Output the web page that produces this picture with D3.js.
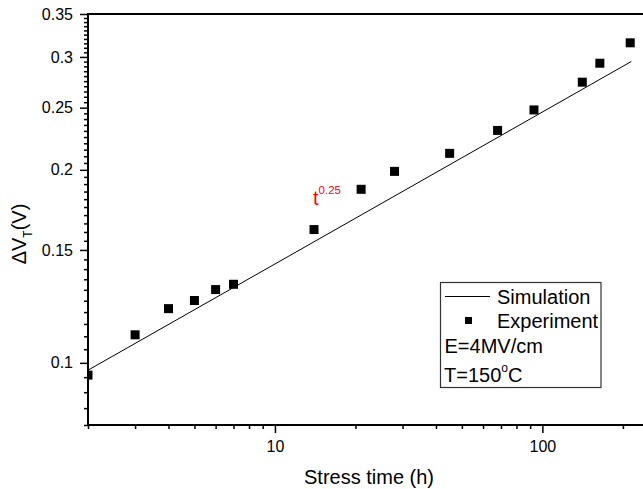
<!DOCTYPE html>
<html>
<head>
<meta charset="utf-8">
<script src="https://cdn.jsdelivr.net/npm/d3@7/dist/d3.min.js"></script>
<style>
  html, body { margin: 0; padding: 0; background: #fff; }
  svg { display: block; font-family: "Liberation Sans", Arial, Helvetica, sans-serif; }
</style>
</head>
<body>
<svg id="chart" width="643" height="489"></svg>
<script>
// ---- data ----
const expTime = [2, 3, 4, 5, 6, 7, 14, 21, 28, 45, 68, 93, 141, 164, 213];
const expDeltaV = [0.0957, 0.1106, 0.1215, 0.1251, 0.1301, 0.1326, 0.1614, 0.1865, 0.1989, 0.2122, 0.2304, 0.248, 0.274, 0.2933, 0.3156];
const simTime = [2, 215];
const simDeltaV = [0.0974, 0.2951];
const xMajorTicks = [10, 100];
const xMinorTicks = [2, 3, 4, 5, 6, 7, 8, 9, 20, 30, 40, 50, 60, 70, 80, 90, 200, 300];
const yMajorTicks = [0.1, 0.15, 0.2, 0.25, 0.3, 0.35];
const yTickLabels = ["0.1", "0.15", "0.2", "0.25", "0.3", "0.35"];
const yMinorTicks = d3.range(16, 71).map(i => i * 0.005).filter(v => !yMajorTicks.some(m => Math.abs(m - v) < 1e-9));
const legendItems = ["Simulation", "Experiment"];
const conditionLabels = ["E=4MV/cm", "T=150"];

// ---- layout ----
const svg = d3.select("#chart");
const L = 88, T = 14, B = 425, R = 670;
const x = d3.scaleLog().domain([2, 300]).range([L, R]);
const y = d3.scaleLog().domain([0.08, 0.35]).range([B, T]);

svg.append("rect").attr("width", 643).attr("height", 489).attr("fill", "#fff");

svg.append("clipPath").attr("id", "plotclip")
  .append("rect").attr("x", L).attr("y", T).attr("width", R - L).attr("height", B - T);

const plot = svg.append("g").attr("clip-path", "url(#plotclip)");

// simulation line
plot.append("path")
  .datum(simTime.map((t, i) => [t, simDeltaV[i]]))
  .attr("fill", "none").attr("stroke", "#000").attr("stroke-width", 1)
  .attr("d", d3.line().x(d => x(d[0])).y(d => y(d[1])));

// experiment markers
const ms = 9;
plot.selectAll("rect.pt").data(expTime.map((t, i) => [t, expDeltaV[i]]))
  .join("rect").attr("class", "pt")
  .attr("x", d => x(d[0]) - ms / 2).attr("y", d => y(d[1]) - ms / 2)
  .attr("width", ms).attr("height", ms).attr("fill", "#000");

// axes
function styleAxis(g, w) {
  g.selectAll(".tick line").attr("stroke", "#000").attr("stroke-width", 1.5);
  g.selectAll(".tick text").attr("fill", "#000").style("font-size", "16px");
  g.select(".domain").remove();
}
const xMinor = svg.append("g").attr("transform", `translate(0,${B})`)
  .call(d3.axisBottom(x).tickValues(xMinorTicks).tickSize(4).tickFormat(""));
styleAxis(xMinor);
const xMajor = svg.append("g").attr("transform", `translate(0,${B})`)
  .call(d3.axisBottom(x).tickValues(xMajorTicks).tickSize(8).tickPadding(8).tickFormat(d3.format("d")));
styleAxis(xMajor);

const yMinor = svg.append("g").attr("transform", `translate(${L},0)`)
  .call(d3.axisLeft(y).tickValues(yMinorTicks).tickSize(4).tickFormat(""));
styleAxis(yMinor);
const yMajor = svg.append("g").attr("transform", `translate(${L},0)`)
  .call(d3.axisLeft(y).tickValues(yMajorTicks).tickSize(8).tickPadding(7)
    .tickFormat((d, i) => yTickLabels[i]));
styleAxis(yMajor);

// frame lines
svg.append("line").attr("x1", L).attr("x2", 643).attr("y1", B).attr("y2", B)
  .attr("stroke", "#000").attr("stroke-width", 2);
svg.append("line").attr("x1", L).attr("x2", L).attr("y1", T - 1).attr("y2", B + 1)
  .attr("stroke", "#000").attr("stroke-width", 2);
svg.append("line").attr("x1", L - 1).attr("x2", 643).attr("y1", T).attr("y2", T)
  .attr("stroke", "#000").attr("stroke-width", 2);

// axis titles
svg.append("text").attr("x", 369).attr("y", 484).attr("text-anchor", "middle")
  .style("font-size", "20px").text("Stress time (h)");

const yt = svg.append("text").attr("transform", "translate(26,234) rotate(-90)")
  .attr("text-anchor", "middle").style("font-size", "20px");
yt.append("tspan").text("\u0394V");
yt.append("tspan").attr("dy", 6).style("font-size", "12px").text("T");
yt.append("tspan").attr("dy", -6).text("(V)");

// t^0.25 annotation
const ann = svg.append("text").attr("x", 313).attr("y", 205).attr("fill", "#ff0000")
  .style("font-size", "20px");
ann.append("tspan").text("t");
ann.append("tspan").attr("dy", -11).style("font-size", "11.5px").text("0.25");

// legend
const lg = svg.append("g");
lg.append("rect").attr("x", 440.5).attr("y", 282.5).attr("width", 160.5).attr("height", 105)
  .attr("fill", "#fff").attr("stroke", "#333").attr("stroke-width", 1.2);
lg.append("line").attr("x1", 445).attr("x2", 490).attr("y1", 296.5).attr("y2", 296.5)
  .attr("stroke", "#000").attr("stroke-width", 1);
lg.append("text").attr("x", 497).attr("y", 303.5).style("font-size", "20px").text(legendItems[0]);
lg.append("rect").attr("x", 468.5 - 3.5).attr("y", 320.5 - 3.5).attr("width", 7).attr("height", 7).attr("fill", "#000");
lg.append("text").attr("x", 497).attr("y", 328).style("font-size", "20px").text(legendItems[1]);
lg.append("text").attr("x", 444.5).attr("y", 353).style("font-size", "20px").text(conditionLabels[0]);
const tt = lg.append("text").attr("x", 444).attr("y", 381.5).style("font-size", "20px");
tt.append("tspan").text(conditionLabels[1]);
tt.append("tspan").attr("dy", -10).style("font-size", "12px").text("o");
tt.append("tspan").attr("dy", 10).text("C");
</script>
</body>
</html>
